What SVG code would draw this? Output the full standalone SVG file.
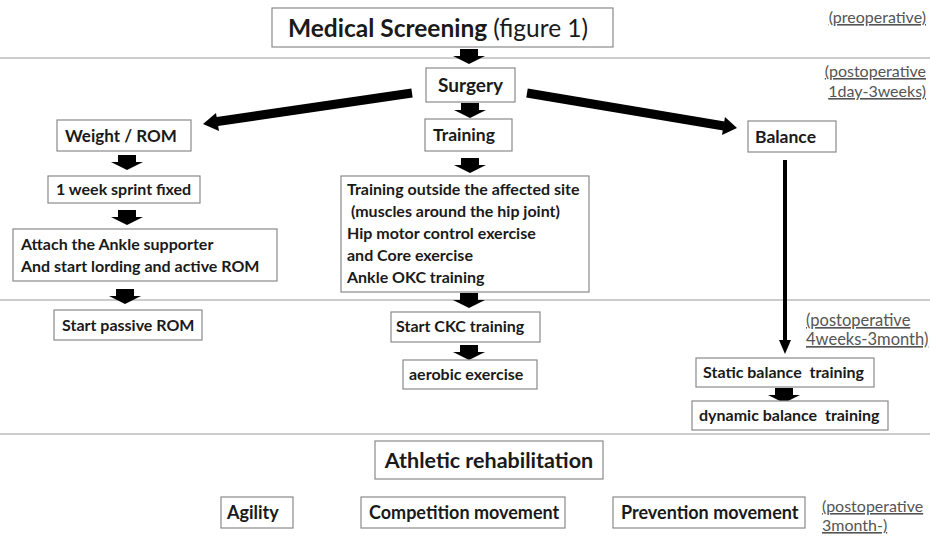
<svg xmlns="http://www.w3.org/2000/svg" width="930" height="536" viewBox="0 0 930 536">
<defs>
<style>
.box{fill:#fff;stroke:#8a8a8a;stroke-width:1.2}
.t{font-family:Lato,"Liberation Sans",sans-serif;font-weight:bold;fill:#1a1a1a;font-size:16px}
.h{font-size:17.5px}
.b{font-size:18px}
.n{font-weight:normal}
.lbl{font-family:Lato,"Liberation Sans",sans-serif;font-size:16px;fill:#555;text-decoration:underline}
.sep{stroke:#999;stroke-width:1.2}
.blk{fill:#000}
</style>
<path id="ba" d="M-9,0 H9 V7 H16 L0,15 L-16,7 H-9 Z"/>
</defs>
<rect width="930" height="536" fill="#fff"/>
<g id="separators">
<line class="sep" x1="0" y1="58" x2="930" y2="58"/>
<line class="sep" x1="0" y1="300" x2="930" y2="300"/>
<line class="sep" x1="0" y1="434" x2="930" y2="434"/>
</g>
<g id="phase-labels">
<text class="lbl" x="926" y="23" text-anchor="end">(preoperative)</text>
<text class="lbl" x="926" y="77" text-anchor="end">(postoperative</text>
<text class="lbl" x="926" y="97" text-anchor="end">1day-3weeks)</text>
<text class="lbl" x="806" y="326" style="font-size:16.5px">(postoperative</text>
<text class="lbl" x="806" y="345" style="font-size:16.5px">4weeks-3month)</text>
<text class="lbl" x="822" y="512">(postoperative</text>
<text class="lbl" x="822" y="531">3month-)</text>
</g>
<g id="connectors">
<use href="#ba" class="blk" x="469" y="49"/>
<use href="#ba" class="blk" x="470" y="103"/>
<use href="#ba" class="blk" x="127" y="155"/>
<use href="#ba" class="blk" x="127" y="210"/>
<use href="#ba" class="blk" x="125" y="289"/>
<use href="#ba" class="blk" x="470" y="158"/>
<use href="#ba" class="blk" x="469" y="293"/>
<use href="#ba" class="blk" x="469" y="345"/>
<use href="#ba" class="blk" x="784" y="388"/>
<line x1="412" y1="93" x2="214" y2="122" stroke="#000" stroke-width="9"/>
<path class="blk" d="M203,124 L216,113 L219,131 Z"/>
<line x1="527" y1="93" x2="724" y2="126" stroke="#000" stroke-width="9"/>
<path class="blk" d="M737,128 L722,135 L725,117 Z"/>
<line x1="785" y1="160" x2="785" y2="342" stroke="#000" stroke-width="4"/>
<path class="blk" d="M785,354 L779,340 L791,340 Z"/>
</g>
<g id="medical-screening">
<rect class="box" x="272" y="8" width="341" height="39"/>
<text class="t" x="288" y="37" style="font-size:24.5px">Medical Screening <tspan class="n">(figure 1)</tspan></text>
</g>
<g id="surgery">
<rect class="box" x="426" y="68" width="89" height="34"/>
<text class="t" x="470.5" y="92" text-anchor="middle" style="font-size:19px">Surgery</text>
</g>
<g id="weight-rom">
<rect class="box" x="57" y="120" width="134" height="31"/>
<text class="t" x="65" y="142" style="font-size:17px">Weight / ROM</text>
</g>
<g id="sprint">
<rect class="box" x="48" y="176" width="152" height="27"/>
<text class="t" x="56" y="195">1 week sprint fixed</text>
</g>
<g id="ankle-supporter">
<rect class="box" x="13" y="229" width="264" height="52"/>
<text class="t" x="21" y="250">Attach the Ankle supporter</text>
<text class="t" x="21" y="272">And start lording and active ROM</text>
</g>
<g id="passive-rom">
<rect class="box" x="54" y="310" width="148" height="30"/>
<text class="t" x="62" y="331">Start passive ROM</text>
</g>
<g id="training">
<rect class="box" x="425" y="119" width="87" height="32"/>
<text class="t h" x="433" y="141">Training</text>
</g>
<g id="training-outside">
<rect class="box" x="341" y="176" width="248" height="116"/>
<text class="t" x="347" y="195">Training outside the affected site</text>
<text class="t" x="347" y="217" xml:space="preserve"> (muscles around the hip joint)</text>
<text class="t" x="347" y="239">Hip motor control exercise</text>
<text class="t" x="347" y="261">and Core exercise</text>
<text class="t" x="347" y="283">Ankle OKC training</text>
</g>
<g id="ckc">
<rect class="box" x="391" y="312" width="149" height="30"/>
<text class="t" x="396" y="332">Start CKC training</text>
</g>
<g id="aerobic">
<rect class="box" x="403" y="360" width="134" height="29"/>
<text class="t" x="409" y="380">aerobic exercise</text>
</g>
<g id="balance">
<rect class="box" x="748" y="121" width="88" height="31"/>
<text class="t h" x="755" y="143">Balance</text>
</g>
<g id="static-balance">
<rect class="box" x="696" y="358" width="178" height="29"/>
<text class="t" x="703" y="378" xml:space="preserve">Static balance  training</text>
</g>
<g id="dynamic-balance">
<rect class="box" x="692" y="401" width="196" height="29"/>
<text class="t" x="699" y="421" xml:space="preserve">dynamic balance  training</text>
</g>
<g id="athletic">
<rect class="box" x="375" y="441" width="228" height="38"/>
<text class="t" x="489" y="468" text-anchor="middle" style="font-size:21.5px">Athletic rehabilitation</text>
</g>
<g id="agility">
<rect class="box" x="221" y="497" width="72" height="31"/>
<text class="t b" x="227" y="519">Agility</text>
</g>
<g id="competition">
<rect class="box" x="361" y="497" width="204" height="31"/>
<text class="t b" x="369" y="519">Competition movement</text>
</g>
<g id="prevention">
<rect class="box" x="613" y="497" width="192" height="31"/>
<text class="t b" x="621" y="519">Prevention movement</text>
</g>
</svg>
